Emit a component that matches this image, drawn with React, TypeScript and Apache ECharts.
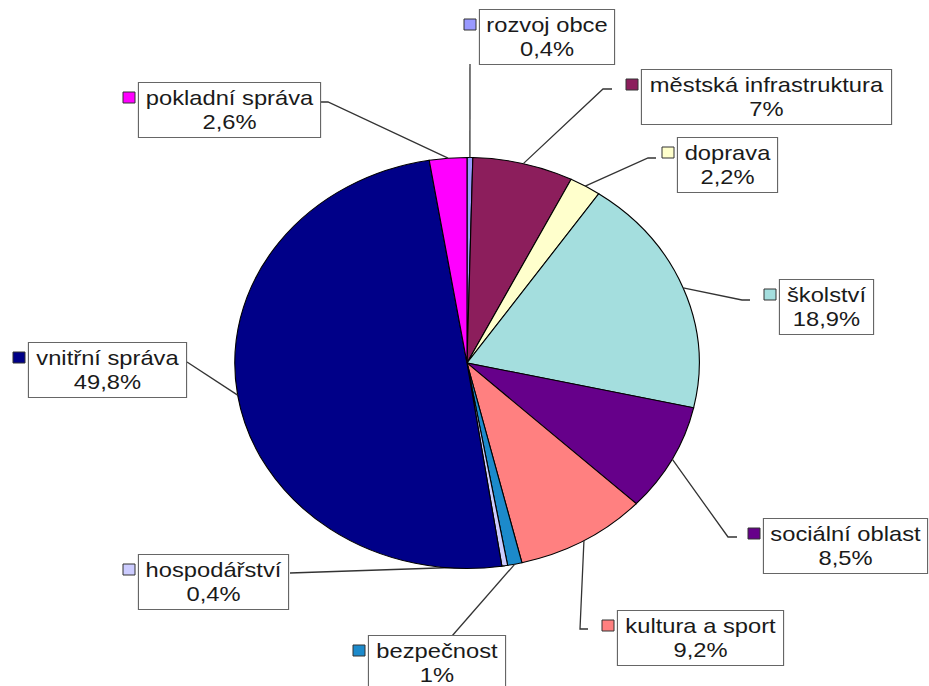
import React, { useEffect, useRef } from 'react';
import * as echarts from 'echarts';

// ---- data ----
const categories = [
  'rozvoj obce',
  'městská infrastruktura',
  'doprava',
  'školství',
  'sociální oblast',
  'kultura a sport',
  'bezpečnost',
  'hospodářství',
  'vnitřní správa',
  'pokladní správa',
];
const values = [0.4, 7, 2.2, 18.9, 8.5, 9.2, 1, 0.4, 49.8, 2.6];
const colors = [
  '#9999FF',
  '#8C1E5C',
  '#FFFFCC',
  '#A4DEDE',
  '#66008A',
  '#FF8080',
  '#1C8ACB',
  '#CCCCFF',
  '#000088',
  '#FF00FF',
];

// ---- layout (pixels) ----
const STRETCH = 1.13;
const PIE_CX = 467;
const PIE_CY = 363;
const PIE_R = 205.5;
const labelCenterX = [547, 766.5, 727.5, 826.5, 845.5, 700.5, 437, 213.5, 107.5, 229.5];
const labelTop = [10, 70, 138, 280, 519, 611, 636, 555, 343, 83];
const labelBoxW = [134, 249, 99, 93, 163, 165, 136, 149, 157, 181];
const leaderElbow: (number[] | null)[] = [
  null, [603, 89], [648, 158], [742, 300], [728, 537], [580, 629], null, null, null, [328, 102],
];
const leaderEnd: number[][] = [
  [470, 64], [612, 89], [656, 158], [750, 300], [737, 537], [588, 629], [452, 636], [290, 573], [187, 362], [320, 102],
];

const fmtPct = (v: number) => String(v).replace('.', ',') + '%';

export default function App() {
  const ref = useRef<HTMLDivElement>(null);
  useEffect(() => {
    if (!ref.current) return;
    const chart = echarts.init(ref.current, null, { renderer: 'svg' });
    const total = values.reduce((a, b) => a + b, 0);
    const cum: number[] = [];
    let acc = 0;
    values.forEach((v) => {
      cum.push(acc);
      acc += v;
    });
    const PAD_X = 5;
    const PAD_Y = 3;
    chart.setOption({
      animation: false,
      backgroundColor: '#ffffff',
      series: [
        {
          type: 'custom',
          coordinateSystem: 'none',
          data: values.map((v, i) => ({ name: categories[i], value: [v] })),
          renderItem: (params: any, api: any) => {
            const i = params.dataIndex;
            const v = api.value(0);
            const a0 = -Math.PI / 2 + (cum[i] / total) * 2 * Math.PI;
            const a1 = a0 + (v / total) * 2 * Math.PI;
            const am = (a0 + a1) / 2;
            const ex = PIE_CX + STRETCH * PIE_R * Math.cos(am);
            const ey = PIE_CY + PIE_R * Math.sin(am);
            const pts: number[][] = [[ex, ey]];
            const elb = leaderElbow[i];
            if (elb) pts.push(elb);
            pts.push(leaderEnd[i]);
            const bw = labelBoxW[i];
            const left = labelCenterX[i] - bw / 2;
            return {
              type: 'group',
              children: [
                {
                  type: 'sector',
                  x: PIE_CX,
                  y: PIE_CY,
                  scaleX: STRETCH,
                  shape: { cx: 0, cy: 0, r: PIE_R, r0: 0, startAngle: a0, endAngle: a1, clockwise: true },
                  style: { fill: colors[i], stroke: '#000000', lineWidth: 1 },
                },
                {
                  type: 'polyline',
                  shape: { points: pts },
                  style: { stroke: '#333333', lineWidth: 1.3, fill: 'none' },
                },
                {
                  type: 'rect',
                  shape: { x: left - 16, y: labelTop[i] + 9, width: 12, height: 11 },
                  style: { fill: colors[i], stroke: '#333333', lineWidth: 1 },
                },
                {
                  type: 'text',
                  x: labelCenterX[i],
                  y: labelTop[i],
                  scaleX: STRETCH,
                  style: {
                    text: categories[i] + '\n' + fmtPct(v),
                    x: 0,
                    y: 0,
                    align: 'center',
                    verticalAlign: 'top',
                    font: '21px "Liberation Sans", Arial, sans-serif',
                    lineHeight: 24,
                    fill: '#1a1a1a',
                    backgroundColor: '#ffffff',
                    borderColor: '#666666',
                    borderWidth: 1,
                    padding: [PAD_Y, PAD_X],
                    width: bw / STRETCH - 2 * PAD_X,
                  },
                },
              ],
            };
          },
        },
      ],
    });
    return () => chart.dispose();
  }, []);
  return (
    <div
      ref={ref}
      style={{ position: 'absolute', left: 0, top: 0, width: 929, height: 686 }}
    />
  );
}
